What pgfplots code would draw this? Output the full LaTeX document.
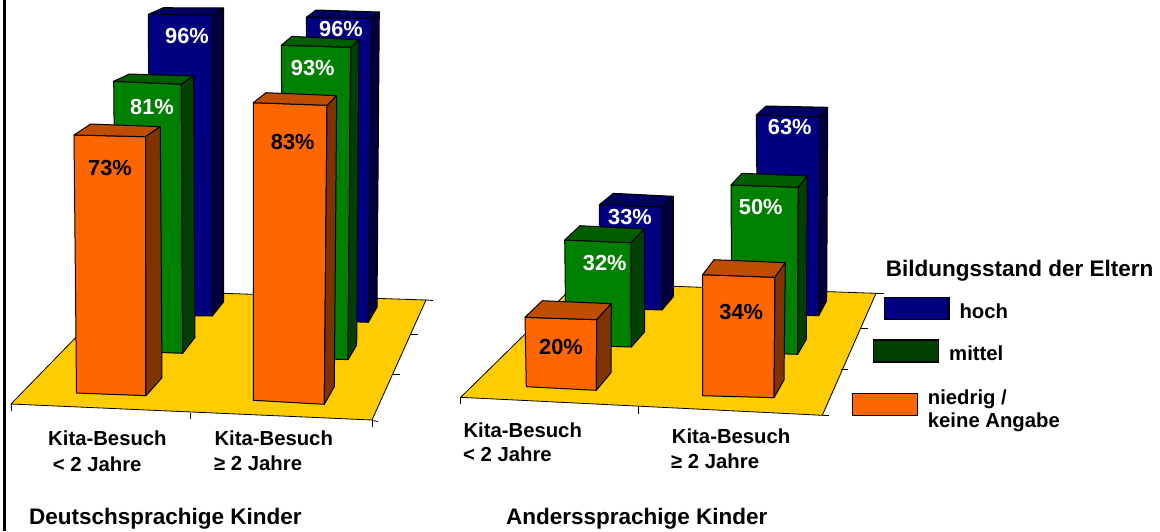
\documentclass[border=0pt]{standalone}
\usepackage{pgfplots}
\pgfplotsset{compat=1.18}
\usepackage{fontspec}
\setmainfont{Liberation Sans}
\definecolor{bF}{HTML}{000080}\definecolor{bT}{HTML}{00005E}\definecolor{bS}{HTML}{000040}
\definecolor{gF}{HTML}{008000}\definecolor{gT}{HTML}{005E00}\definecolor{gS}{HTML}{004000}
\definecolor{oF}{HTML}{FF6600}\definecolor{oT}{HTML}{BF4D00}\definecolor{oS}{HTML}{803300}
\definecolor{floor}{HTML}{FFCC00}
% #1 colour prefix; #2-#5 front TL TR BR BL; #6 #7 back top L R; #8 back bottom R
\newcommand{\solidbar}[8]{%
  \addplot[draw=black,line width=1pt,line join=round,fill=#1F] coordinates {(#2) (#3) (#4) (#5)} --cycle;
  \addplot[draw=black,line width=1pt,line join=round,fill=#1T] coordinates {(#2) (#6) (#7) (#3)} --cycle;
  \addplot[draw=black,line width=1pt,line join=round,fill=#1S] coordinates {(#3) (#7) (#8) (#4)} --cycle;
}
\newcommand{\tck}[2]{\addplot[black,line width=0.8pt] coordinates {(#1) (#2)};}
\newcommand{\val}[4]{\node[text=#1,font=\fontsize{21.8}{24}\selectfont\bfseries,inner sep=0pt] at (axis cs:#2,#3) {#4};}
\newcommand{\lab}[3]{\node[anchor=base west,font=\fontsize{20.3}{24}\selectfont\bfseries,inner sep=0pt] at (axis cs:#1,#2) {#3};}
\newcommand{\ttl}[3]{\node[anchor=base west,font=\fontsize{22.5}{24}\selectfont\bfseries,inner sep=0pt] at (axis cs:#1,#2) {#3};}
\newcommand{\legbox}[5]{\addplot[draw=black,line width=1.2pt,fill=#1] coordinates {(#2,#3) (#4,#3) (#4,#5) (#2,#5)} --cycle;}
\begin{document}
\begin{tikzpicture}
\begin{axis}[scale only axis,width=1160pt,height=531pt,xmin=0,xmax=1160,ymin=0,ymax=531,
  y dir=reverse,axis lines=none,clip=false,ticks=none]
% frame line
\addplot[black,line width=3pt] coordinates {(4,0) (4,531)};
% left floor
\addplot[draw=black,line width=0.8pt,fill=floor] coordinates {(11,404) (372,420) (426,300) (122,290)} --cycle;
\tck{11,404}{11,411}\tck{190.5,413}{190.5,419}\tck{372,420}{372,427}\tck{372,420.5}{378,421.5}
\tck{426,300}{433,300.5}\tck{411,334}{418,334}\tck{393,374.5}{400,374.5}
% left group 1
\solidbar{b}{148.3,14.3}{212.3,15.3}{212.3,316}{150,315}{163.3,7.7}{223.7,8}{223.7,301.7}
\solidbar{g}{113.7,81.3}{181.3,84.3}{182.7,353.3}{116,351}{129.3,74}{193.7,76}{195,337.3}
\solidbar{o}{74,135}{145.5,136.7}{146,395.7}{76.5,393}{90.7,124}{160.3,126.7}{162,377.7}
% left group 2
\solidbar{b}{306.3,17.3}{371.7,18.3}{368.3,322.3}{308,320}{316,10}{379.3,12}{377,307.3}
\solidbar{g}{281.3,45.3}{350.7,47.3}{348,359.7}{283,357}{292,36.3}{359,40}{356.7,345}
\solidbar{o}{253.3,102.7}{327,105.3}{324.3,404.3}{253.3,400.3}{266,92.7}{336.7,95.7}{334.3,386.7}
% right floor
\addplot[draw=black,line width=0.8pt,fill=floor] coordinates {(460.7,397.3) (822.3,415.3) (876,293.3) (577,283)} --cycle;
\tck{460.7,397.3}{460.7,404}\tck{638.5,406}{638.5,413.5}\tck{822.3,415.3}{829,415.5}
\tck{876,293.3}{884,293.3}\tck{860.7,328.3}{868,328.3}\tck{841,369.3}{848.3,369.3}
% right group 1
\solidbar{b}{599.3,204.7}{662,207}{662,310}{600,308}{613.3,193.3}{673.3,196.3}{673.3,296.7}
\solidbar{g}{564.7,240}{631,242.7}{631.3,347}{566,345}{580,225.7}{644.3,229}{644.7,331.7}
\solidbar{o}{525,317.3}{596.7,319.7}{596.3,390.3}{526.3,386.7}{542.3,300.7}{611.3,303.7}{611,372.7}
% right group 2
\solidbar{b}{756.3,115}{820.3,117.3}{818.7,315.7}{758,314}{766,106}{827.7,107.3}{826.7,300.7}
\solidbar{g}{731,185}{798.3,187.3}{797.7,354.3}{732,352}{742,173.3}{807.3,176}{806.3,339.3}
\solidbar{o}{702.7,274.7}{775,277.3}{774,397.7}{702.7,395.7}{714,259.7}{785.3,262.7}{784,380}
% value labels
\val{white}{187}{35.7}{96\%}\val{white}{341}{29.3}{96\%}
\val{white}{152}{106.7}{81\%}\val{white}{312.7}{67.7}{93\%}
\val{black}{110}{167.7}{73\%}\val{black}{292.7}{141.7}{83\%}
\val{white}{630}{216.7}{33\%}\val{white}{789.7}{127.3}{63\%}
\val{white}{604.7}{262.7}{32\%}\val{white}{760.7}{206.7}{50\%}
\val{black}{741.3}{311.7}{34\%}\val{black}{561}{346.7}{20\%}
% category labels
\lab{48}{445.7}{Kita-Besuch}\lab{52.7}{471}{< 2 Jahre}
\lab{214.3}{445}{Kita-Besuch}\lab{214}{470}{≥ 2 Jahre}
\ttl{29}{524}{Deutschsprachige Kinder}
\lab{463.3}{437.3}{Kita-Besuch}\lab{463}{461.7}{< 2 Jahre}
\lab{671.7}{443.3}{Kita-Besuch}\lab{671}{468.3}{≥ 2 Jahre}
\ttl{506}{524.3}{Anderssprachige Kinder}
% legend
\legbox{bF}{884.3}{297.7}{949}{319.7}
\legbox{gS}{873.7}{340}{938.7}{362}
\legbox{oF}{852.7}{393.7}{917.3}{415.3}
\ttl{885.7}{276.7}{Bildungsstand der Eltern}
\lab{959.3}{318}{hoch}\lab{949}{360}{mittel}
\lab{927.7}{404}{niedrig /}\lab{927.7}{427.7}{keine Angabe}
\end{axis}
\pgfresetboundingbox
\useasboundingbox (0,0) rectangle (1160pt,531pt);
\end{tikzpicture}
\end{document}
